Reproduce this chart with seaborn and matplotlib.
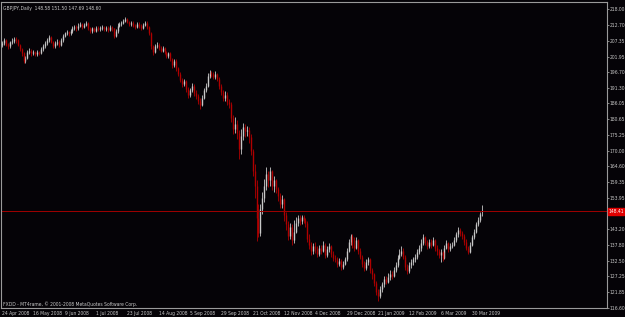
import numpy as np
import pandas as pd
import matplotlib
matplotlib.use("Agg")
import matplotlib.pyplot as plt
import matplotlib.transforms as mtransforms
from matplotlib import font_manager as fm
import seaborn as sns

# ---------------- data ----------------
opens = [206.0, 206.5, 207.5, 206.0, 205.5, 206.8, 207.2, 208.0, 207.5, 206.0,
         204.5, 203.0, 200.5, 201.5, 203.5, 204.0, 203.0, 203.5, 202.8, 203.6,
         203.2, 204.5, 205.5, 206.5, 207.5, 208.5, 207.0, 205.5, 206.5, 207.0,
         206.0, 207.5, 209.0, 209.8, 210.2, 209.8, 210.5, 211.5, 212.0, 211.5,
         212.5, 213.0, 212.0, 212.8, 213.2, 211.5, 210.5, 211.5, 210.8, 211.8,
         211.2, 211.5, 212.0, 211.2, 211.8, 211.0, 212.0, 211.5, 209.0, 210.5,
         212.5, 213.0, 213.5, 214.0, 214.8, 213.8, 213.0, 213.5, 212.5, 212.0,
         213.0, 212.5, 211.8, 212.8, 213.5, 212.0, 210.0, 205.5, 203.5, 205.5,
         206.0, 205.0, 204.0, 204.8, 203.5, 202.0, 203.0, 201.0, 199.0, 200.5,
         198.0, 196.0, 194.0, 192.5, 193.5, 191.0, 189.0, 190.5, 192.0, 189.5,
         188.5, 187.0, 185.5, 188.0, 190.5, 192.0, 195.5, 196.5, 196.0, 195.0,
         196.0, 194.5, 192.0, 190.0, 188.0, 189.0, 186.5, 186.0, 181.0, 177.5,
         179.0, 176.0, 170.5, 175.0, 178.0, 176.5, 177.0, 174.5, 170.0, 163.0,
         158.0, 147.0, 142.0, 150.0, 154.0, 158.0, 162.0, 160.0, 163.0, 158.0,
         160.0, 157.0, 154.5, 152.0, 153.5, 148.0, 145.0, 141.0, 144.0, 139.5,
         142.5, 145.5, 147.0, 146.0, 147.5, 146.5, 145.5, 140.0, 138.0, 136.0,
         137.5, 136.5, 135.0, 137.0, 136.0, 138.0, 134.5, 136.5, 137.5, 135.0,
         133.5, 133.0, 131.5, 132.5, 130.5, 131.5, 133.0, 136.0, 139.0, 141.0,
         138.0, 137.0, 139.5, 136.0, 134.0, 131.5, 130.0, 132.0, 133.0, 129.5,
         128.0, 125.0, 122.0, 120.5, 123.0, 124.5, 126.5, 125.5, 127.0, 128.0,
         127.5, 129.5, 131.0, 133.5, 135.0, 136.0, 134.0, 130.5, 129.0, 131.0,
         132.0, 133.0, 134.0, 135.5, 137.0, 138.5, 140.5, 139.0, 137.5, 139.0,
         138.0, 139.5, 137.0, 136.0, 134.5, 135.5, 133.5, 137.0, 138.5, 136.5,
         137.5, 138.0, 139.5, 141.5, 143.0, 142.0, 141.0, 139.0, 137.0, 135.5,
         138.0, 140.5, 142.5, 145.0, 146.5, 148.58]

highs = [207.3, 208.2, 208.0, 206.6, 207.4, 208.1, 208.6, 208.5, 207.8, 206.3,
         205.0, 203.4, 202.3, 204.1, 204.8, 204.4, 204.2, 203.9, 204.2, 204.0,
         205.3, 206.2, 207.1, 208.3, 209.2, 208.9, 207.4, 207.2, 207.8, 207.5,
         208.2, 209.6, 210.4, 210.9, 210.7, 211.3, 212.2, 212.8, 212.6, 213.3,
         213.8, 213.5, 213.4, 214.0, 213.6, 212.0, 212.1, 212.0, 212.4, 212.3,
         212.2, 212.6, 212.4, 212.4, 212.2, 212.6, 212.5, 211.8, 211.2, 213.2,
         213.8, 214.1, 214.7, 215.5, 215.2, 214.2, 214.1, 213.9, 212.9, 213.7,
         213.6, 213.0, 213.4, 214.2, 213.9, 212.4, 210.3, 206.0, 206.2, 206.8,
         206.5, 205.6, 205.4, 205.2, 204.0, 203.6, 203.4, 201.5, 201.2, 201.0,
         198.5, 196.6, 194.6, 194.5, 194.0, 191.6, 191.4, 193.0, 192.6, 190.5,
         189.2, 187.8, 188.8, 191.2, 193.0, 196.3, 197.4, 197.2, 196.8, 196.9,
         196.5, 195.0, 192.8, 190.6, 190.2, 189.8, 187.5, 186.5, 182.0, 181.5,
         180.5, 177.0, 177.5, 179.5, 179.0, 178.5, 178.0, 175.5, 170.5, 165.5,
         160.0, 152.0, 152.0, 156.0, 160.5, 164.5, 163.0, 164.5, 163.5, 161.5,
         160.5, 157.5, 155.5, 155.0, 154.0, 149.0, 146.0, 145.5, 145.0, 146.5,
         147.5, 148.0, 148.0, 148.2, 148.0, 147.2, 146.0, 141.5, 139.0, 138.5,
         138.8, 137.5, 138.0, 138.0, 139.2, 138.5, 137.5, 138.5, 138.0, 135.8,
         134.5, 133.8, 133.5, 133.0, 132.5, 134.0, 137.0, 140.0, 141.8, 141.5,
         140.5, 140.5, 140.0, 136.8, 134.5, 132.5, 133.0, 134.0, 133.5, 130.0,
         128.5, 125.8, 123.0, 124.0, 125.5, 127.5, 127.5, 128.5, 129.5, 129.2,
         130.5, 132.0, 134.5, 136.5, 137.5, 136.8, 134.5, 131.5, 132.0, 133.2,
         134.0, 135.0, 136.5, 138.0, 139.8, 141.8, 141.0, 139.5, 140.0, 139.8,
         140.5, 140.0, 137.8, 136.5, 136.5, 136.0, 138.0, 139.5, 139.0, 138.5,
         139.0, 140.8, 142.5, 144.0, 143.8, 142.8, 141.5, 139.8, 137.5, 138.8,
         141.2, 143.2, 145.8, 147.5, 149.0, 151.50]

lows = [205.2, 205.9, 205.4, 204.6, 205.0, 206.2, 206.7, 206.6, 205.5, 203.8,
        202.2, 199.8, 199.9, 201.0, 202.9, 202.3, 202.4, 202.1, 202.3, 202.5,
        202.8, 204.0, 205.0, 206.0, 207.0, 206.4, 204.8, 205.0, 205.9, 205.3,
        205.6, 207.0, 208.5, 209.2, 209.0, 209.3, 210.0, 211.0, 210.8, 211.0,
        212.0, 211.4, 211.5, 212.2, 210.9, 209.8, 210.0, 210.2, 210.3, 210.6,
        210.6, 211.0, 210.6, 210.8, 210.4, 210.6, 210.5, 208.2, 208.6, 210.0,
        212.0, 212.5, 213.0, 213.6, 213.2, 212.3, 212.5, 211.9, 211.2, 211.6,
        211.8, 211.0, 211.3, 212.3, 211.4, 209.3, 204.5, 202.6, 203.0, 204.8,
        204.3, 203.4, 203.5, 202.9, 201.3, 201.5, 200.3, 198.2, 198.5, 197.2,
        195.2, 193.2, 191.6, 191.8, 190.0, 188.0, 188.3, 190.0, 188.5, 187.5,
        185.8, 184.3, 185.0, 187.5, 189.8, 191.5, 194.8, 195.0, 194.2, 194.3,
        193.6, 191.0, 189.0, 186.8, 187.0, 185.5, 184.5, 179.8, 175.5, 176.0,
        174.0, 167.0, 169.0, 173.5, 174.5, 175.0, 172.5, 168.5, 161.5, 154.0,
        139.3, 140.5, 141.0, 148.5, 152.5, 156.5, 157.5, 158.0, 156.5, 156.0,
        155.5, 153.0, 150.5, 150.5, 146.0, 143.0, 139.5, 140.0, 138.0, 138.5,
        142.0, 144.5, 144.8, 145.0, 145.5, 144.0, 139.0, 136.5, 134.5, 135.0,
        135.2, 134.0, 134.2, 135.0, 135.5, 133.5, 133.8, 135.5, 134.0, 132.5,
        132.0, 130.5, 130.8, 129.5, 129.8, 131.0, 132.5, 135.5, 138.0, 137.0,
        136.0, 136.5, 135.0, 133.0, 130.5, 129.0, 129.5, 131.0, 128.5, 126.5,
        124.0, 121.0, 119.0, 120.0, 122.0, 123.8, 124.5, 125.0, 126.0, 126.5,
        127.0, 128.8, 130.5, 133.0, 134.2, 133.0, 129.5, 128.0, 128.5, 130.2,
        131.0, 132.0, 133.2, 134.8, 136.0, 138.0, 138.0, 136.5, 136.8, 137.0,
        137.5, 136.0, 134.5, 133.5, 132.2, 132.5, 133.0, 136.5, 135.5, 135.8,
        136.8, 137.5, 139.0, 140.8, 141.0, 140.0, 138.0, 136.2, 135.0, 135.2,
        137.5, 140.0, 142.0, 144.5, 145.8, 147.69]

closes = [206.5, 207.5, 206.0, 205.5, 206.8, 207.2, 208.0, 207.5, 206.0, 204.5,
          203.0, 200.5, 201.5, 203.5, 204.0, 203.0, 203.5, 202.8, 203.6, 203.2,
          204.5, 205.5, 206.5, 207.5, 208.5, 207.0, 205.5, 206.5, 207.0, 206.0,
          207.5, 209.0, 209.8, 210.2, 209.8, 210.5, 211.5, 212.0, 211.5, 212.5,
          213.0, 212.0, 212.8, 213.2, 211.5, 210.5, 211.5, 210.8, 211.8, 211.2,
          211.5, 212.0, 211.2, 211.8, 211.0, 212.0, 211.5, 209.0, 210.5, 212.5,
          213.0, 213.5, 214.0, 214.8, 213.8, 213.0, 213.5, 212.5, 212.0, 213.0,
          212.5, 211.8, 212.8, 213.5, 212.0, 210.0, 205.5, 203.5, 205.5, 206.0,
          205.0, 204.0, 204.8, 203.5, 202.0, 203.0, 201.0, 199.0, 200.5, 198.0,
          196.0, 194.0, 192.5, 193.5, 191.0, 189.0, 190.5, 192.0, 189.5, 188.5,
          187.0, 185.5, 188.0, 190.5, 192.0, 195.5, 196.5, 196.0, 195.0, 196.0,
          194.5, 192.0, 190.0, 188.0, 189.0, 186.5, 186.0, 181.0, 177.5, 179.0,
          176.0, 170.5, 175.0, 178.0, 176.5, 177.0, 174.5, 170.0, 163.0, 158.0,
          147.0, 142.0, 150.0, 154.0, 158.0, 162.0, 160.0, 163.0, 158.0, 160.0,
          157.0, 154.5, 152.0, 153.5, 148.0, 145.0, 141.0, 144.0, 139.5, 142.5,
          145.5, 147.0, 146.0, 147.5, 146.5, 145.5, 140.0, 138.0, 136.0, 137.5,
          136.5, 135.0, 137.0, 136.0, 138.0, 134.5, 136.5, 137.5, 135.0, 133.5,
          133.0, 131.5, 132.5, 130.5, 131.5, 133.0, 136.0, 139.0, 141.0, 138.0,
          137.0, 139.5, 136.0, 134.0, 131.5, 130.0, 132.0, 133.0, 129.5, 128.0,
          125.0, 122.0, 120.5, 123.0, 124.5, 126.5, 125.5, 127.0, 128.0, 127.5,
          129.5, 131.0, 133.5, 135.0, 136.0, 134.0, 130.5, 129.0, 131.0, 132.0,
          133.0, 134.0, 135.5, 137.0, 138.5, 140.5, 139.0, 137.5, 139.0, 138.0,
          139.5, 137.0, 136.0, 134.5, 135.5, 133.5, 137.0, 138.5, 136.5, 137.5,
          138.0, 139.5, 141.5, 143.0, 142.0, 141.0, 139.0, 137.0, 135.5, 138.0,
          140.5, 142.5, 145.0, 146.5, 148.5, 148.60]

date_labels = ["24 Apr 2008", "16 May 2008", "9 Jun 2008", "1 Jul 2008",
               "23 Jul 2008", "14 Aug 2008", "5 Sep 2008", "29 Sep 2008",
               "21 Oct 2008", "12 Nov 2008", "4 Dec 2008", "29 Dec 2008",
               "21 Jan 2009", "12 Feb 2009", "6 Mar 2009", "30 Mar 2009"]
date_bar_index = [0, 16, 32, 48, 64, 80, 96, 112, 128, 144, 160, 176, 192, 208, 224, 240]

price_ticks = [218.00, 212.70, 207.35, 201.95, 196.70, 191.30, 186.05, 180.65,
               175.25, 170.00, 164.60, 159.35, 153.95, 143.20, 137.80, 132.50,
               127.25, 121.85, 116.60]

title_text = "GBPJPY,Daily  148.58 151.50 147.69 148.60"
footer_text = "FXDD - MT4rame, \u00a9 2001-2008 MetaQuotes Software Corp."
bid_label = "148.41"
bid_level = 149.3

# ---------------- style ----------------
BG = "#050307"
FG = "#c8c8c8"
FRAME = "#9a9a9a"
UP = "#c8c8c8"
DOWN = "#b00000"

sns.set_theme(style="dark", rc={"axes.facecolor": BG, "figure.facecolor": BG,
                                "axes.edgecolor": FRAME, "axes.grid": False})

# pick a narrow font for the tiny terminal-like labels
_fonts = fm.fontManager.ttflist
_names = {f.name for f in _fonts}
if "Liberation Sans Narrow" in _names:
    plt.rcParams["font.family"] = ["Liberation Sans Narrow", "DejaVu Sans"]
    FS = 4.0
elif any(f.name == "DejaVu Sans" and "condensed" in str(f.stretch).lower() for f in _fonts):
    plt.rcParams["font.family"] = ["DejaVu Sans"]
    plt.rcParams["font.stretch"] = "condensed"
    FS = 3.6
else:
    plt.rcParams["font.family"] = ["Liberation Sans", "DejaVu Sans"]
    FS = 3.4

df = pd.DataFrame({"open": opens, "high": highs, "low": lows, "close": closes})
df["bar"] = np.arange(len(df))
df["up"] = df["close"] >= df["open"]

fig = plt.figure(figsize=(6.25, 3.17), dpi=100, facecolor=BG)
ax = fig.add_axes([1 / 625, 9 / 317, 606 / 625, 306 / 317])
ax.set_facecolor(BG)

for is_up, col in ((True, UP), (False, DOWN)):
    sub = df[df["up"] == is_up]
    ax.vlines(sub["bar"], sub["low"], sub["high"], color=col, lw=0.6)
    ax.vlines(sub["bar"], sub["open"], sub["close"], color=col, lw=1.0)

ax.axhline(bid_level, color="#a00000", lw=0.7)

ax.set_xlim(-0.51, 309.0)
ax.set_ylim(116.5, 220.5)

for s in ax.spines.values():
    s.set_color(FRAME)
    s.set_linewidth(0.8)

ax.yaxis.tick_right()
ax.set_yticks(price_ticks)
ax.set_yticklabels([f"{v:.2f}" for v in price_ticks])
ax.tick_params(axis="y", which="both", direction="out", length=1.5, width=0.6,
               color=FRAME, labelcolor=FG, labelsize=FS, pad=0.4)

ax.set_xticks(date_bar_index)
ax.set_xticklabels(date_labels)
ax.tick_params(axis="x", which="both", direction="out", length=1.5, width=0.6,
               color=FRAME, labelcolor=FG, labelsize=FS, pad=0.8)
for lbl in ax.get_xticklabels():
    lbl.set_ha("left")

ax.text(0.004, 0.988, title_text, transform=ax.transAxes, ha="left", va="top",
        color=FG, fontsize=FS)
ax.text(0.004, 0.013, footer_text, transform=ax.transAxes, ha="left", va="center",
        color=FG, fontsize=FS)

trans = mtransforms.blended_transform_factory(ax.transAxes, ax.transData)
ax.text(1.002, bid_level, bid_label, transform=trans, ha="left", va="center",
        color="white", fontsize=FS, clip_on=False,
        bbox=dict(boxstyle="square,pad=0.12", fc="#e00000", ec="#e00000"))

fig.savefig("out.png", dpi=100, facecolor=BG)
